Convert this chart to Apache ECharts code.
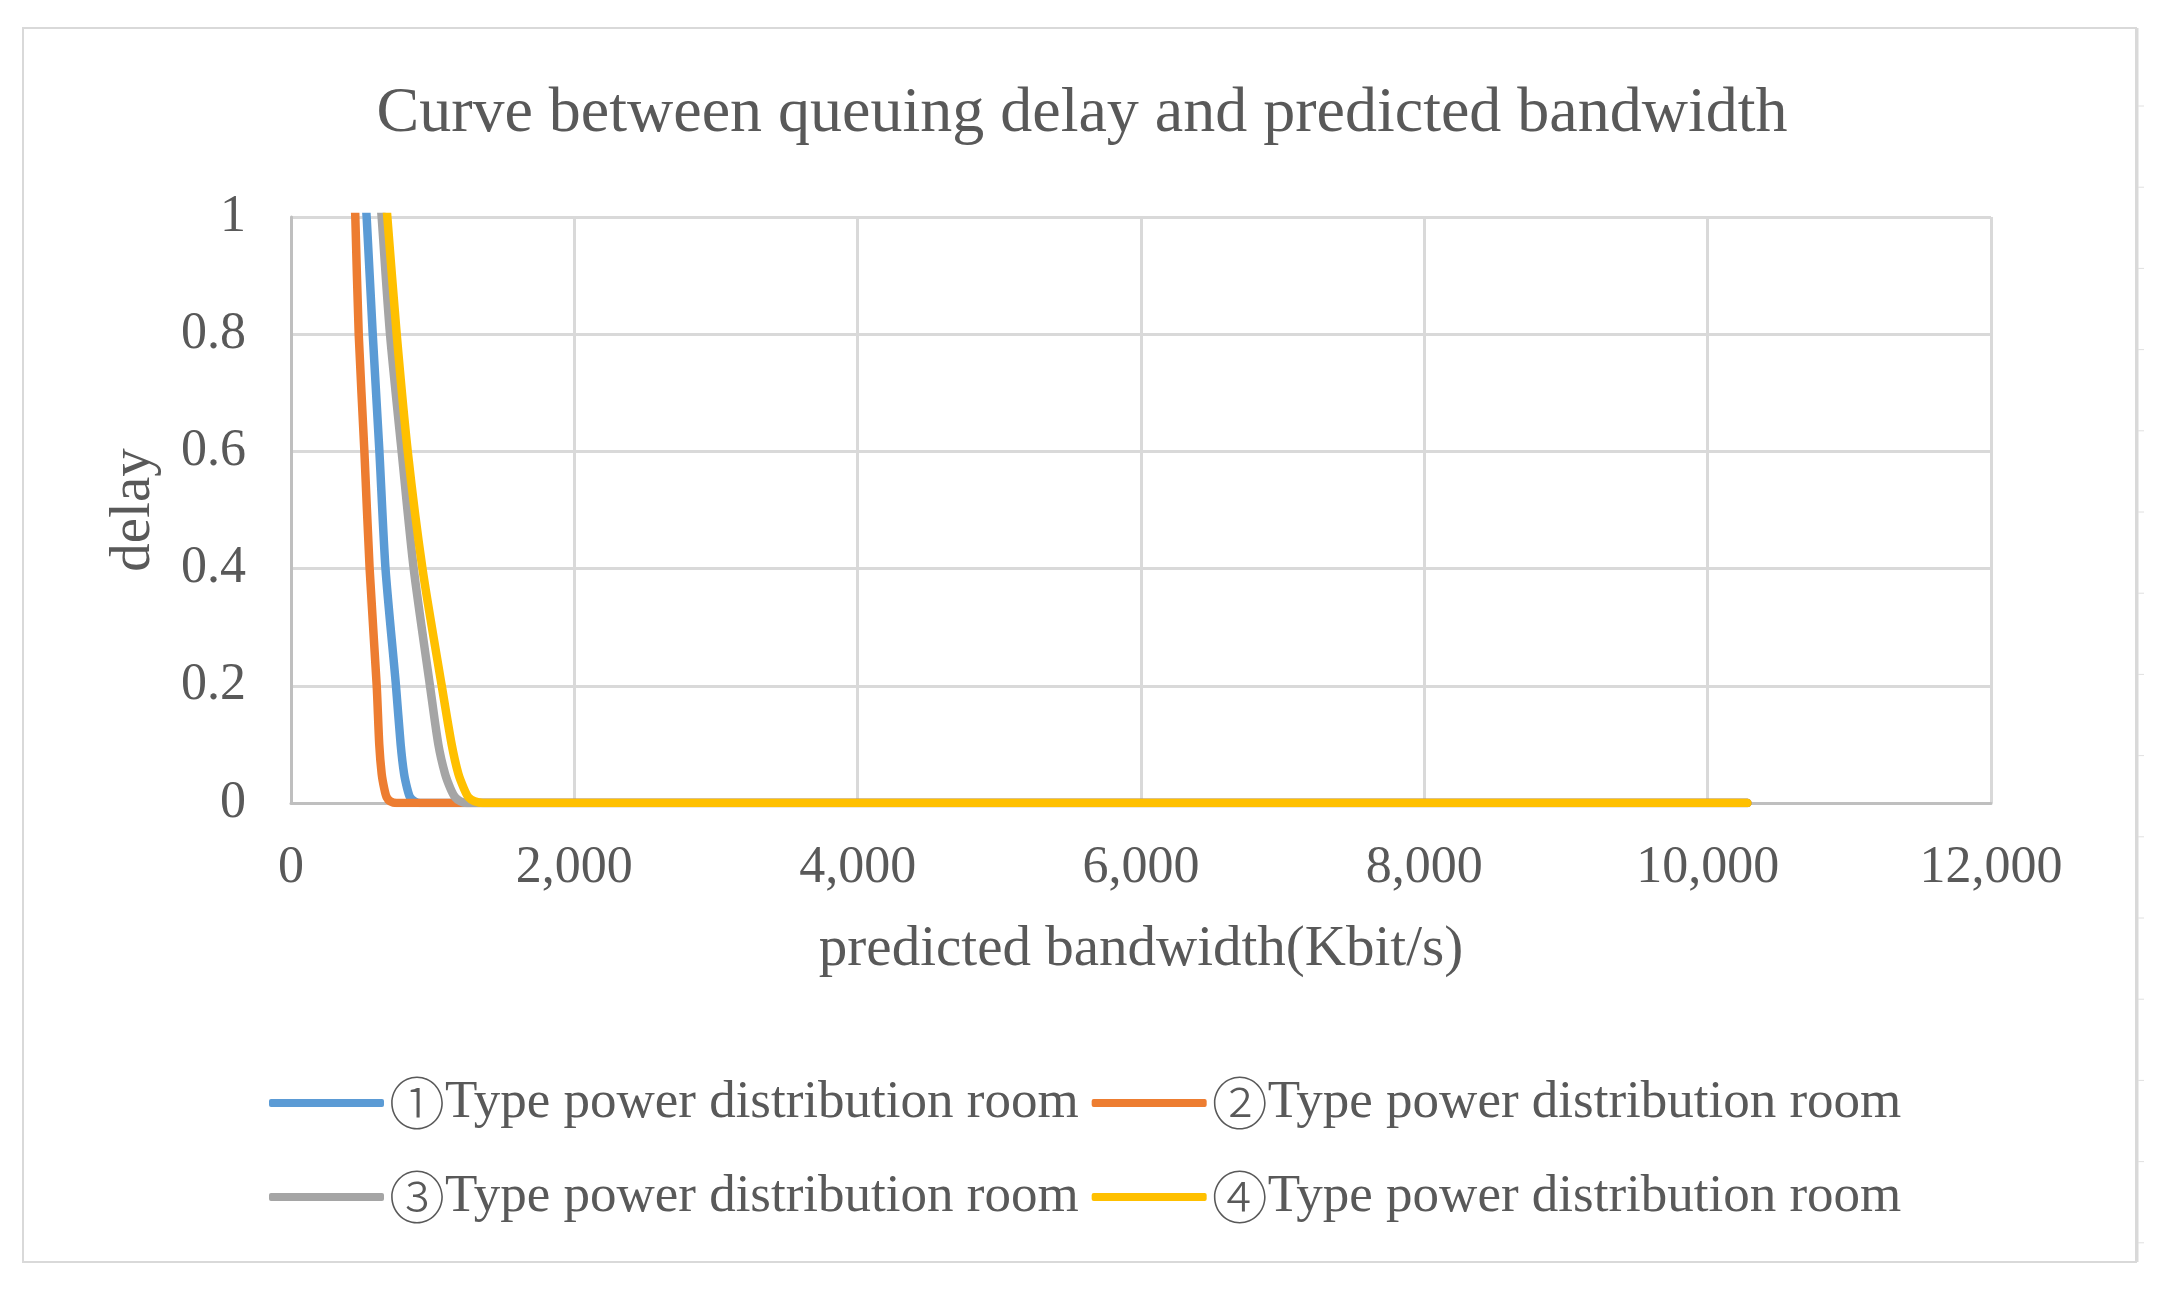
<!DOCTYPE html>
<html>
<head>
<meta charset="utf-8">
<script src="https://cdn.jsdelivr.net/npm/echarts@6/dist/echarts.min.js"></script>
<style>
  html, body { margin: 0; padding: 0; background: #fff; }
  #chart { width: 2164px; height: 1298px; }
</style>
</head>
<body>
<div id="chart"></div>
<script>
var chartTitle = 'Curve between queuing delay and predicted bandwidth';
var xName = 'predicted bandwidth(Kbit/s)';
var yName = 'delay';
var markArr = ['①', '②', '③', '④'];
var nameArr = ['①Type power distribution room', '②Type power distribution room', '③Type power distribution room', '④Type power distribution room'];
var color = ['#5b9bd5', '#ed7d31', '#a5a5a5', '#ffc000'];

// [bandwidth, delay]
var room1 = [[525, 1.03], [534, 1.0], [577, 0.8], [624, 0.6], [667, 0.4], [741, 0.2], [774, 0.1], [798, 0.05], [820, 0.025], [840, 0.01], [870, 0.003], [911, 0], [10280, 0]];
var room2 = [[450, 1.03], [454, 1.0], [478, 0.8], [518, 0.6], [555, 0.4], [605, 0.2], [623, 0.1], [640, 0.05], [658, 0.025], [675, 0.01], [700, 0.003], [746, 0], [10280, 0]];
var room3 = [[630, 1.03], [640, 1.0], [699, 0.8], [781, 0.6], [866, 0.4], [981, 0.2], [1040, 0.1], [1087, 0.05], [1125, 0.025], [1158, 0.01], [1195, 0.003], [1240, 0], [10280, 0]];
var room4 = [[670, 1.03], [680, 1.0], [746, 0.8], [824, 0.6], [928, 0.4], [1064, 0.2], [1134, 0.1], [1181, 0.05], [1220, 0.025], [1252, 0.01], [1295, 0.003], [1356, 0], [10280, 0]];
var data = [room1, room2, room3, room4];

var font = "'Liberation Serif', 'Times New Roman', serif";
var textColor = '#595959';

var series = [];
for (var i = 0; i < nameArr.length; i++) {
  series.push({
    name: nameArr[i],
    type: 'line',
    showSymbol: false,
    smooth: 0.25,
    lineStyle: { width: 8.5, color: color[i], cap: 'round', join: 'round' },
    itemStyle: { color: color[i] },
    data: data[i]
  });
}

// frame of the picture, with the little ticks on its right edge
var graphics = [{
  type: 'rect',
  shape: { x: 23, y: 28, width: 2113, height: 1234 },
  style: { fill: 'none', stroke: '#d9d9d9', lineWidth: 2 },
  silent: true
}, {
  type: 'line',
  shape: { x1: 2137, y1: 28, x2: 2137, y2: 1262 },
  style: { stroke: '#d9d9d9', lineWidth: 3 },
  silent: true
}];
for (var k = 0; k < 15; k++) {
  var ty = 106 + k * 81.2;
  graphics.push({
    type: 'line',
    shape: { x1: 2138, y1: ty, x2: 2144, y2: ty },
    style: { stroke: '#e0e0e0', lineWidth: 1 },
    silent: true
  });
}

function legendFormatter(name) {
  var idx = nameArr.indexOf(name);
  return '{m|' + markArr[idx] + '}' + name.slice(markArr[idx].length);
}

var legendCommon = {
  orient: 'horizontal',
  icon: 'roundRect',
  padding: 0,
  itemWidth: 115,
  itemHeight: 8,
  itemGap: 13,
  formatter: legendFormatter,
  textStyle: {
    color: textColor,
    fontSize: 53,
    fontFamily: font,
    rich: {
      m: { fontSize: 56, fontFamily: "'Noto Sans CJK SC'", color: textColor, fontWeight: 200 }
    }
  }
};

var option = {
  backgroundColor: '#fff',
  animation: false,
  color: color,
  title: {
    text: chartTitle,
    left: 'center',
    top: 77,
    textStyle: { color: textColor, fontSize: 64, fontWeight: 'normal', fontFamily: font }
  },
  grid: { left: 291, right: 173, top: 217, bottom: 495, containLabel: false },
  legend: [
    Object.assign({ left: 269, top: 1075, data: [nameArr[0], nameArr[1]] }, legendCommon),
    Object.assign({ left: 269, top: 1169, data: [nameArr[2], nameArr[3]] }, legendCommon)
  ],
  xAxis: {
    type: 'value',
    min: 0,
    max: 12000,
    interval: 2000,
    name: xName,
    nameLocation: 'middle',
    nameGap: 119,
    nameTextStyle: { color: textColor, fontSize: 57, fontFamily: font },
    axisLine: { show: true, lineStyle: { color: '#bfbfbf', width: 3 } },
    axisTick: { show: false },
    splitLine: { show: true, lineStyle: { color: '#d9d9d9', width: 3 } },
    axisLabel: {
      margin: 39,
      color: textColor,
      fontSize: 52,
      fontFamily: font,
      formatter: function (v) { return v.toLocaleString('en-US'); }
    }
  },
  yAxis: {
    type: 'value',
    min: 0,
    max: 1,
    interval: 0.2,
    name: yName,
    nameLocation: 'middle',
    nameGap: 128,
    nameTextStyle: { color: textColor, fontSize: 57, fontFamily: font },
    axisLine: { show: true, lineStyle: { color: '#bfbfbf', width: 3 } },
    axisTick: { show: false },
    splitLine: { show: true, lineStyle: { color: '#d9d9d9', width: 3 } },
    axisLabel: {
      margin: 45,
      color: textColor,
      fontSize: 52,
      fontFamily: font,
      formatter: function (v) { return String(Math.round(v * 10) / 10); }
    }
  },
  graphic: graphics,
  series: series
};

var myChart = echarts.init(document.getElementById('chart'));
myChart.setOption(option);
</script>
</body>
</html>
